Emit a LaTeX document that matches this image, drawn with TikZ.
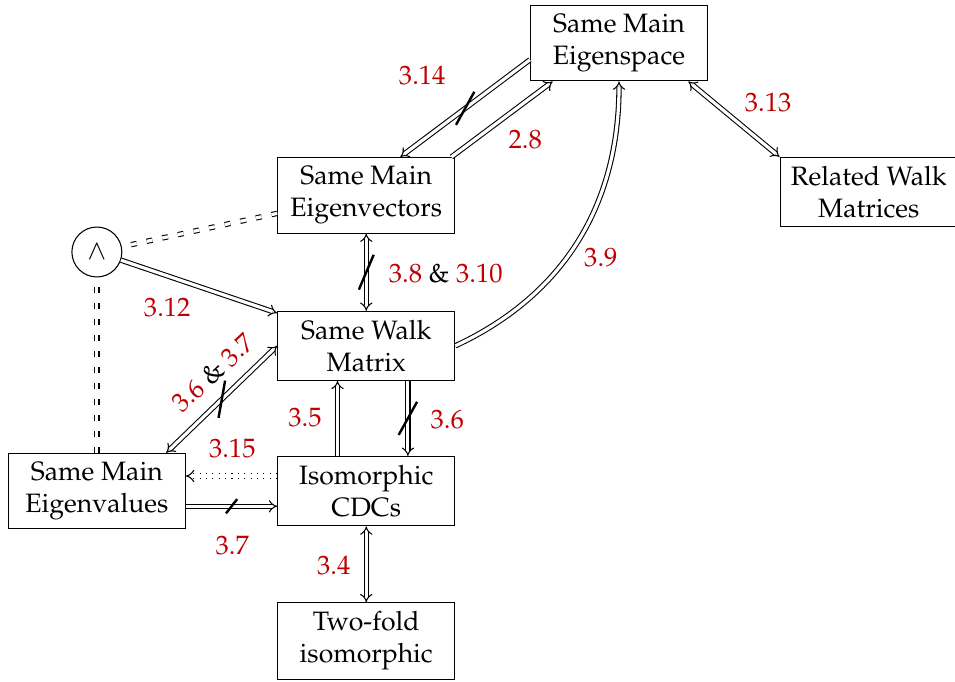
\documentclass[tikz,border=0pt]{standalone}
\usepackage[T1]{fontenc}
\usepackage{mathpazo}
\usetikzlibrary{arrows.meta,decorations.markings}
\definecolor{thmred}{RGB}{192,0,0}

\begin{document}
\begin{tikzpicture}[auto,
    property/.style ={rectangle, draw, minimum width=2.34cm, align=center},
    conjunction/.style ={circle, draw, minimum size=0.66cm, inner sep=0pt},
    result/.style ={text=thmred},
    implication/.style ={double, double distance=1.2pt, -{Implies[scale=1.3]}},
    equivalence/.style ={double, double distance=1.2pt, {Implies[scale=1.3]}-{Implies[scale=1.3]}},
    condition/.style ={double, double distance=1.2pt, dash pattern=on 2.2pt off 3.8pt},
    negated/.style 2 args ={postaction={decorate}, decoration={markings,
        mark=at position 0.5 with {\pgftransformresetnontranslations
        \draw[line width=0.9pt, solid, -] (#1:#2) -- (#1+180:#2);}}}]
   \useasboundingbox (0,0) rectangle (12.62,-9.0);

   \node[property] (space) at (8.18,-0.57) {Same Main\\Eigenspace};
   \node[property] (vectors) at (4.84,-2.58) {Same Main\\Eigenvectors};
   \node[property] (related) at (11.48,-2.54) {Related Walk\\Matrices};
   \node[property] (walk) at (4.84,-4.57) {Same Walk\\Matrix};
   \node[property] (values) at (1.28,-6.49) {Same Main\\Eigenvalues};
   \node[property] (cdcs) at (4.84,-6.49) {Isomorphic\\CDCs};
   \node[property] (twofold) at (4.84,-8.47) {Two-fold\\isomorphic};
   \node[conjunction] (and) at (1.28,-3.33) {$\wedge$};

   \draw[implication, negated={61}{0.25}] ([yshift=-0.22cm]space.west) to ([xshift=0.45cm]vectors.north);
   \draw[implication] ([xshift=-0.05cm]vectors.north east) to ([xshift=0.3cm]space.south west);
   \draw[equivalence, negated={67}{0.25}] (vectors) to (walk);
   \draw[implication] (and) to ([yshift=-0.03cm]walk.north west);
   \draw[condition] ([yshift=-0.24cm]vectors.west) to (and);
   \draw[condition] (values) to (and);
   \draw[equivalence, negated={80}{0.25}] (walk.west) to ([xshift=-0.26cm]values.north east);
   \draw[implication, negated={61}{0.25}] ([xshift=0.55cm]walk.south) to ([xshift=0.55cm]cdcs.north);
   \draw[implication] ([xshift=-0.38cm]cdcs.north) to ([xshift=-0.38cm]walk.south);
   \draw[implication, dotted] ([yshift=0.2cm]cdcs.west) to ([yshift=0.2cm]values.east);
   \draw[implication, negated={52}{0.12}] ([yshift=-0.2cm]values.east) to ([yshift=-0.2cm]cdcs.west);
   \draw[implication] (walk.east) to[out=25, in=-90] (space.south);
   \draw[equivalence] ([xshift=-0.26cm]space.south east) to (related.north west);
   \draw[equivalence] (cdcs) to (twofold);

   \node[result] (r314) at (5.58,-1.00) {3.14};
   \node[result] (r28) at (6.94,-1.84) {2.8};
   \node[result] (r313) at (10.15,-1.35) {3.13};
   \node (r38) at (5.89,-3.61) {\textcolor{thmred}{3.8} \& \textcolor{thmred}{3.10}};
   \node[result] (r39) at (7.94,-3.41) {3.9};
   \node[result] (r312) at (2.21,-4.07) {3.12};
   \node[rotate=43] (r36) at (2.81,-4.93) {\textcolor{thmred}{3.6} \& \textcolor{thmred}{3.7}};
   \node[result] (r315) at (3.07,-5.93) {3.15};
   \node[result] (r37) at (3.07,-7.21) {3.7};
   \node[result] (r35) at (4.03,-5.52) {3.5};
   \node[result] (r36b) at (5.91,-5.55) {3.6};
   \node[result] (r34) at (4.41,-7.48) {3.4};
 \end{tikzpicture}
\end{document}
